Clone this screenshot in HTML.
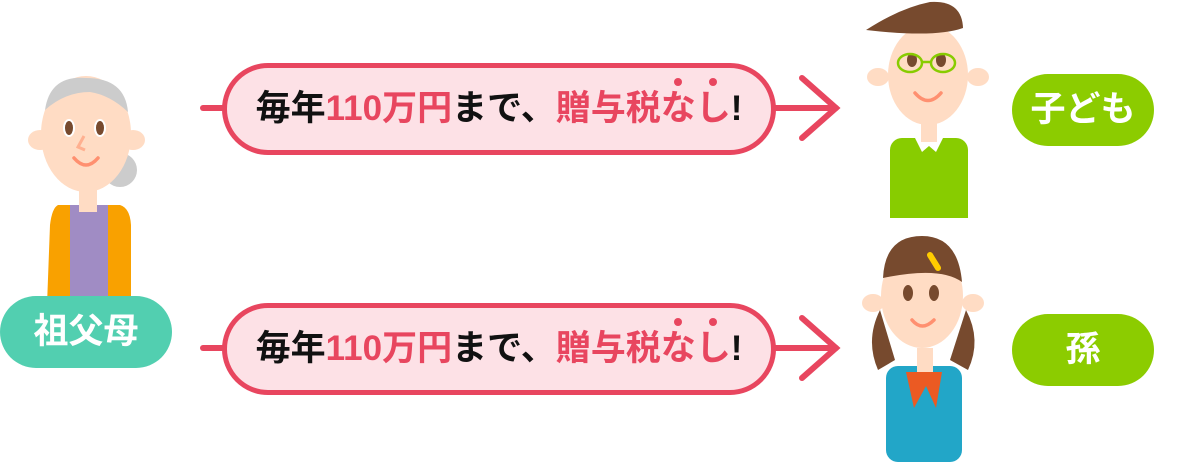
<!DOCTYPE html>
<html><head><meta charset="utf-8"><style>
body{margin:0;width:1182px;height:462px;background:#fff;overflow:hidden;position:relative;font-family:"Liberation Sans","Noto Sans CJK JP",sans-serif}
.pill{position:absolute;border-radius:40px;color:#fff;font-weight:bold;font-size:35px;text-align:center}
.ban{position:absolute;left:222px;width:544px;height:82px;border:5px solid #e8465f;background:#fde1e6;border-radius:46px;font-weight:bold;font-size:35px;line-height:82px;text-align:center;color:#111;white-space:nowrap}
.r{color:#e8465f}
</style></head><body>
<svg width="1182" height="462" style="position:absolute;left:0;top:0">
<g stroke="#e8465f" stroke-width="6" stroke-linecap="round" fill="none">
<line x1="203" y1="108" x2="224" y2="108"/><line x1="774" y1="108" x2="836" y2="108"/><polyline points="802,78 836,108 802,138"/>
<line x1="203" y1="348" x2="224" y2="348"/><line x1="774" y1="348" x2="836" y2="348"/><polyline points="802,318 836,348 802,378"/>
</g>
<!-- grandma -->
<circle cx="120" cy="170" r="17" fill="#ccc"/>
<path d="M58 205 L120 205 Q130 208 131 225 L131 305 L47 305 L50 225 Q52 208 58 205Z" fill="#f9a100"/>
<rect x="70" y="205" width="38" height="100" fill="#a08cc4"/>
<rect x="79" y="180" width="18" height="32" fill="#ffdcc4"/>
<ellipse cx="40" cy="140" rx="12" ry="10" fill="#ffdcc4"/><ellipse cx="133" cy="140" rx="12" ry="10" fill="#ffdcc4"/>
<ellipse cx="86" cy="134" rx="45" ry="58" fill="#ffdcc4"/>
<path d="M45 110 Q50 75 86 78 Q125 78 128 112 Q110 95 90 92 Q65 92 45 110Z" fill="#ccc"/>
<ellipse cx="69" cy="128" rx="6" ry="9" fill="#fff"/><ellipse cx="100" cy="128" rx="6" ry="9" fill="#fff"/>
<ellipse cx="69" cy="128" rx="4" ry="7" fill="#774a2e"/><ellipse cx="100" cy="128" rx="4" ry="7" fill="#774a2e"/>
<path d="M74 158 Q86 172 98 158" stroke="#ff9070" stroke-width="3.5" fill="none" stroke-linecap="round"/>
<path d="M84 136 L78 147 L85 150" stroke="#ffb090" stroke-width="3" fill="none"/>
<!-- boy -->
<rect x="890" y="138" width="78" height="80" rx="12" fill="#88cc00"/>
<rect x="890" y="175" width="78" height="43" fill="#88cc00"/>
<polygon points="915,138 943,138 936,152 929,146 922,152" fill="#fff"/>
<rect x="921" y="118" width="16" height="24" fill="#ffdcc4"/>
<ellipse cx="878" cy="77" rx="11" ry="9" fill="#ffdcc4"/><ellipse cx="978" cy="77" rx="11" ry="9" fill="#ffdcc4"/>
<ellipse cx="928" cy="75" rx="40" ry="50" fill="#ffdcc4"/>
<path d="M866 30 Q900 8 930 2 Q962 0 963 28 Q935 38 866 30Z" fill="#774a2e"/>
<ellipse cx="912" cy="60" rx="5" ry="7" fill="#774a2e"/><ellipse cx="941" cy="60" rx="5" ry="7" fill="#774a2e"/>
<g stroke="#88cc00" stroke-width="2.5" fill="none"><ellipse cx="910" cy="63" rx="12" ry="9"/><ellipse cx="943" cy="63" rx="12" ry="9"/><line x1="922" y1="62" x2="931" y2="62"/></g>
<path d="M915 93 Q928 108 941 93" stroke="#ff9070" stroke-width="3.5" fill="none" stroke-linecap="round"/>
<!-- girl -->
<path d="M880 310 Q865 340 878 370 L895 360Z" fill="#774a2e"/><path d="M966 310 Q982 340 968 370 L950 360Z" fill="#774a2e"/>
<rect x="886" y="366" width="76" height="96" rx="12" fill="#22a6c8"/>
<rect x="917" y="348" width="16" height="24" fill="#ffdcc4"/>
<polygon points="906,372 942,372 936,408 926,386 914,408" fill="#eb5a23"/>
<ellipse cx="873" cy="303" rx="11" ry="9" fill="#ffdcc4"/><ellipse cx="973" cy="303" rx="11" ry="9" fill="#ffdcc4"/>
<ellipse cx="922" cy="296" rx="41" ry="52" fill="#ffdcc4"/>
<path d="M883 278 Q885 236 922 236 Q958 236 962 282 Q940 266 883 278Z" fill="#774a2e"/>
<line x1="930" y1="255" x2="938" y2="268" stroke="#fc0" stroke-width="6" stroke-linecap="round"/>
<ellipse cx="908" cy="293" rx="5" ry="8" fill="#774a2e"/><ellipse cx="934" cy="293" rx="5" ry="8" fill="#774a2e"/>
<path d="M912 320 Q922 332 934 320" stroke="#ff9070" stroke-width="3.5" fill="none" stroke-linecap="round"/>
</svg>
<div class="pill" style="left:0;top:296px;width:172px;height:72px;line-height:72px;background:#52cfb0;border-radius:36px">祖父母</div>
<div class="pill" style="left:1012px;top:74px;width:142px;height:72px;line-height:72px;background:#8ccc00;border-radius:36px">子ども</div>
<div class="pill" style="left:1012px;top:314px;width:142px;height:72px;line-height:72px;background:#8ccc00;border-radius:36px">孫</div>
<div class="ban" style="top:63px">毎年<span class="r">110万円</span>まで、<span class="r">贈与税なし</span>!</div>
<div class="ban" style="top:303px">毎年<span class="r">110万円</span>まで、<span class="r">贈与税なし</span>!</div>
<svg width="1182" height="462" style="position:absolute;left:0;top:0">
<g fill="#e8465f"><circle cx="678" cy="82" r="4"/><circle cx="713" cy="82" r="4"/><circle cx="678" cy="322" r="4"/><circle cx="713" cy="322" r="4"/></g>
</svg>
</body></html>
